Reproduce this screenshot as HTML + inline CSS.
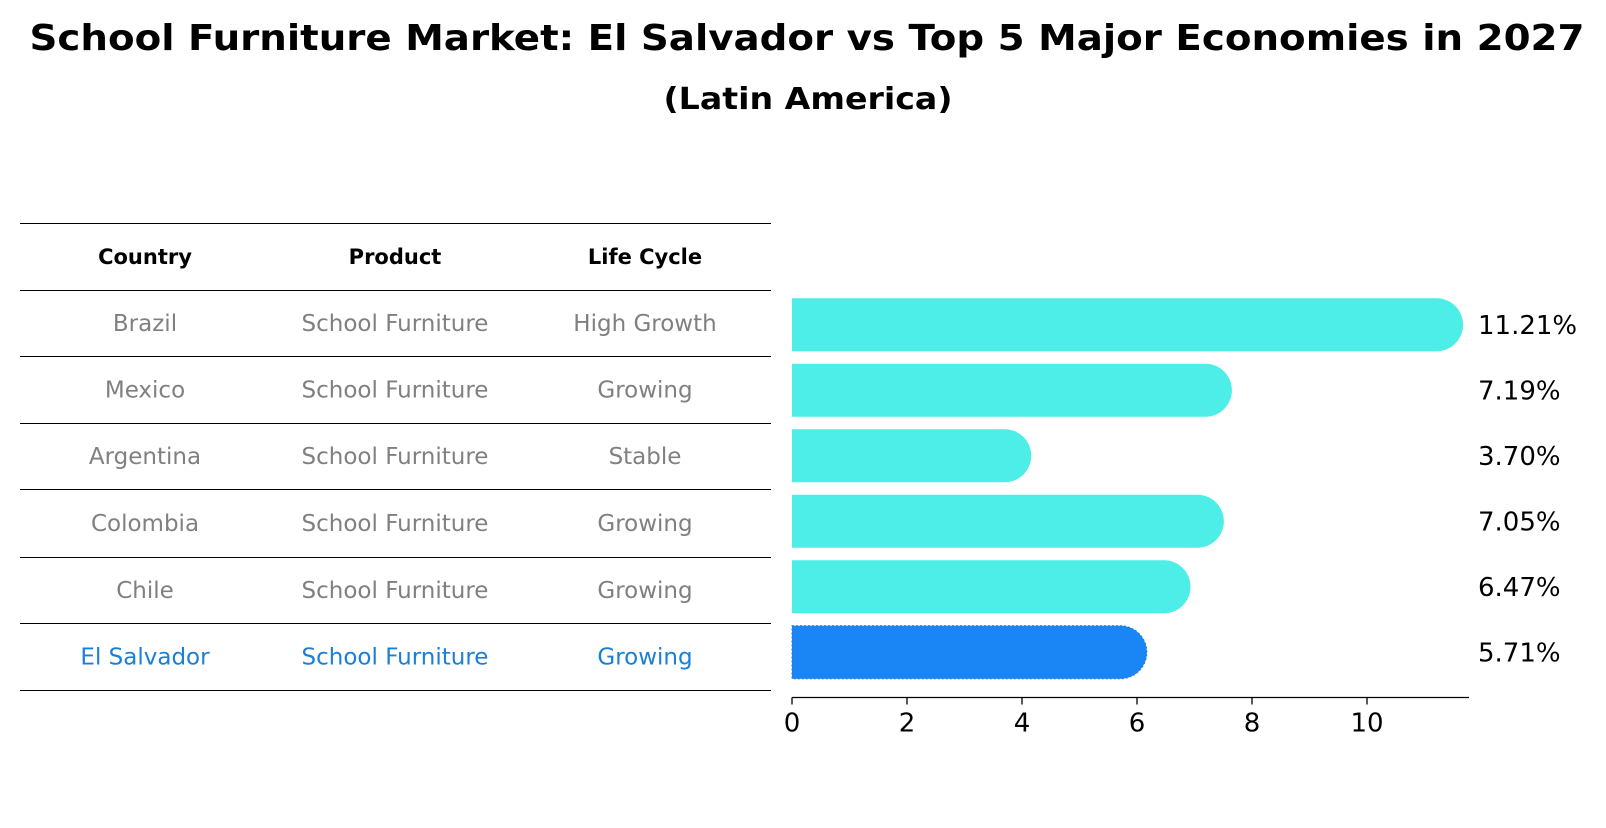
<!DOCTYPE html>
<html><head><meta charset="utf-8"><style>
body{margin:0;background:#fff;font-family:"Liberation Sans","DejaVu Sans",sans-serif;}
svg text{font-family:"DejaVu Sans","Liberation Sans",sans-serif;}
</style></head><body>
<svg id="c" width="1606" height="823" xmlns="http://www.w3.org/2000/svg">
<text x="807" y="50" text-anchor="middle" font-size="36" font-weight="bold" textLength="1555" lengthAdjust="spacingAndGlyphs">School Furniture Market: El Salvador vs Top 5 Major Economies in 2027</text>
<text x="808" y="109" text-anchor="middle" font-size="30" font-weight="bold" textLength="289" lengthAdjust="spacingAndGlyphs">(Latin America)</text>
<g id="table"></g>
<g id="bars"></g>
</svg>
<script>
const countries=["Brazil","Mexico","Argentina","Colombia","Chile","El Salvador"];
const products=["School Furniture","School Furniture","School Furniture","School Furniture","School Furniture","School Furniture"];
const lifeCycles=["High Growth","Growing","Stable","Growing","Growing","Growing"];
const values=[11.21,7.19,3.70,7.05,6.47,5.71];
const ticks=[0,2,4,6,8,10];
const NS="http://www.w3.org/2000/svg";
function mk(tag,attrs,parent){const e=document.createElementNS(NS,tag);for(const k in attrs)e.setAttribute(k,attrs[k]);parent.appendChild(e);return e;}
const x0=792,ppu=57.5,rowTop=292,rowH=65.5,barH=53,axisY=697.5;
const xs=v=>x0+v*ppu;
const yc=i=>rowTop+rowH*i+rowH/2;
const tb=document.getElementById('table');
const lines=[223,290,356,423,489,557,623,690];
lines.forEach((y,i)=>{const l=mk('line',{x1:20,x2:771,y1:y+0.5,y2:y+0.5,stroke:'#000','stroke-width':1},tb);

});
const colX=[145,395,645];
["Country","Product","Life Cycle"].forEach((h,j)=>{const t=mk('text',{x:colX[j],y:264,'text-anchor':'middle','font-size':21,'font-weight':'bold'},tb);t.textContent=h;

});
countries.forEach((c,i)=>{
 const y=(lines[i+1]+lines[i+2])/2+8;
 const col=c==="El Salvador"?"#1a7fd8":"#808080";
 [c,products[i],lifeCycles[i]].forEach((s,j)=>{const t=mk('text',{x:colX[j],y:y,'text-anchor':'middle','font-size':23,fill:col},tb);t.textContent=s;
 
 });
});
const bg=document.getElementById('bars');
values.forEach((v,i)=>{
 const c=yc(i),r=barH/2,xe=xs(v);
 const hl=countries[i]==="El Salvador";
 const p=mk('path',{d:`M${x0},${c-r} H${xe} A${r},${r} 0 0 1 ${xe},${c+r} H${x0} Z`,fill:hl?'#1a86f5':'#4deee8'},bg);
 if(hl){p.setAttribute('stroke','#1f77d4');p.setAttribute('stroke-dasharray','2,2');}
 
 
 const t=mk('text',{x:1478,y:c+9,'font-size':26},bg);t.textContent=v.toFixed(2)+'%';
 
 
});
const ax=mk('line',{x1:x0,x2:1469,y1:axisY,y2:axisY,stroke:'#000','stroke-width':1.3},bg);


ticks.forEach(v=>{const l=mk('line',{x1:xs(v),x2:xs(v),y1:axisY,y2:axisY+7,stroke:'#000','stroke-width':1.3},bg);


const t=mk('text',{x:xs(v),y:axisY+34,'text-anchor':'middle','font-size':26},bg);t.textContent=v;

});
</script>
</body></html>
